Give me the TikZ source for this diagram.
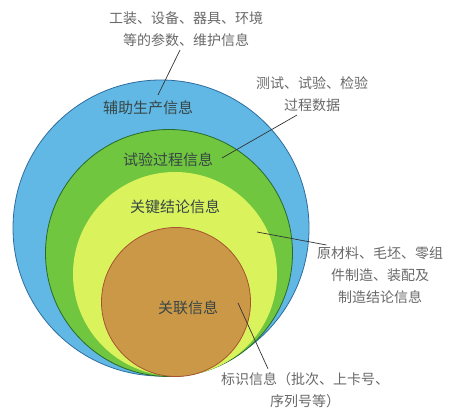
\documentclass[tikz,border=0pt]{standalone}
\usepackage{fontspec}
\setmainfont{Noto Sans CJK SC}
\definecolor{blueFill}{RGB}{98,184,228}
\definecolor{blueLine}{RGB}{45,110,160}
\definecolor{greenFill}{RGB}{112,198,62}
\definecolor{greenLine}{RGB}{40,105,45}
\definecolor{limeFill}{RGB}{218,242,92}
\definecolor{brownFill}{RGB}{203,152,72}
\definecolor{brownLine}{RGB}{165,85,45}
\definecolor{noteText}{RGB}{105,105,105}
\definecolor{ringText}{RGB}{55,70,70}
\tikzset{
  ring/.style={line width=0.8pt},
  ringlabel/.style={font=\fontsize{15}{18}\selectfont, text=ringText},
  note/.style={font=\fontsize{14}{22}\selectfont, text=noteText, align=center},
  leader/.style={line width=0.7pt, black!80}
}
\begin{document}
\begin{tikzpicture}[x=1pt,y=-1pt]
\useasboundingbox (0,0) rectangle (449,417);
\fill[white] (0,0) rectangle (449,417);

% Rings
\filldraw[ring, fill=blueFill, draw=blueLine] (161,228) circle (148);
\filldraw[ring, fill=greenFill, draw=greenLine] (169,253) circle (123.5);
\fill[limeFill] (175,274) circle (102);
\filldraw[ring, fill=brownFill, draw=brownLine] (176,302) circle (74.5);

% Ring labels
\node[ringlabel] (aux) at (148,108) {辅助生产信息};
\node[ringlabel] (test) at (168,160) {试验过程信息};
\node[ringlabel] (key) at (175,207) {关键结论信息};
\node[ringlabel] (link) at (188,308) {关联信息};

% Notes
\node[note] (auxnote) at (186,29) {工装、设备、器具、环境\\等的参数、维护信息};
\node[note] (testnote) at (312,94) {测试、试验、检验\\过程数据};
\node[note] (keynote) at (380,275) {原材料、毛坯、零组\\件制造、装配及\\制造结论信息};
\node[note] (linknote) at (305,390) {标识信息（批次、上卡号、\\序列号等）};

% Leaders
\coordinate (auxend) at (158,95);
\coordinate (testend) at (222,158);
\coordinate (keyend) at (257,232);
\coordinate (linkend) at (238,303);
\draw[leader] (auxend) -- ([xshift=-6pt]auxnote.south);
\draw[leader] (testend) -- ([xshift=-15pt]testnote.south);
\draw[leader] (keyend) -- ([xshift=13pt,yshift=-2pt]keynote.north west);
\draw[leader] (linkend) -- ([xshift=-37pt]linknote.north);
\end{tikzpicture}
\end{document}
